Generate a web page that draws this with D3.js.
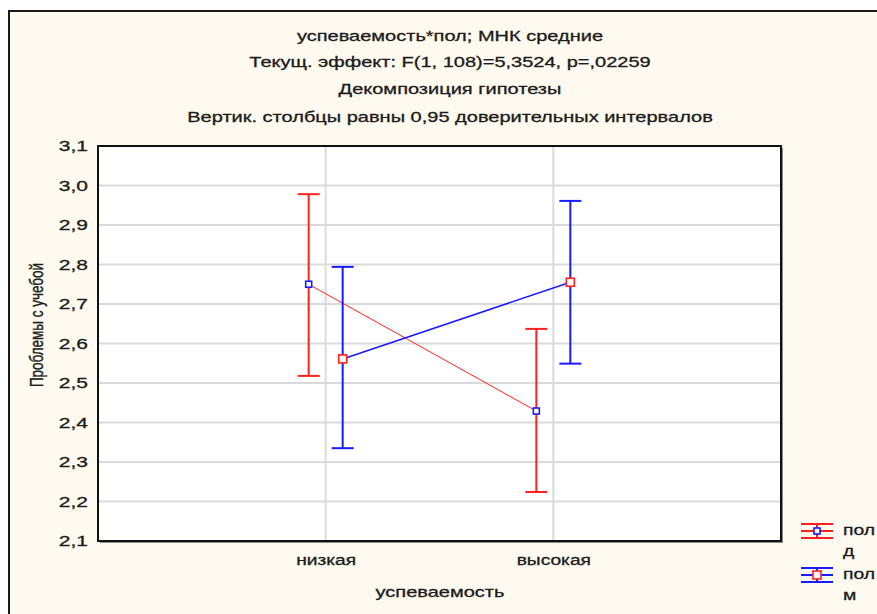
<!DOCTYPE html>
<html>
<head>
<meta charset="utf-8">
<script src="https://cdn.jsdelivr.net/npm/d3@7"></script>
<style>
  html, body { margin: 0; padding: 0; background: #ffffff; }
  svg { display: block; }
  text { font-family: "Liberation Sans", Arial, sans-serif; fill: #1c1c1c; stroke: #1c1c1c; stroke-width: 0.3; }
</style>
</head>
<body>
<svg id="chart" width="877" height="614"></svg>
<script>
// Levels of the factor on the x axis
const categories = ["низкая", "высокая"];
// Groups of the second factor (пол)
const groups = ["д", "м"];

// Least-squares means with 0.95 confidence limits, per group, per category
const meanD = [2.750, 2.429];
const lowD  = [2.518, 2.224];
const highD = [2.978, 2.637];

const meanM = [2.561, 2.755];
const lowM  = [2.335, 2.549];
const highM = [2.794, 2.961];

const yTicks = [2.1, 2.2, 2.3, 2.4, 2.5, 2.6, 2.7, 2.8, 2.9, 3.0, 3.1];

const titleLines = [
  "успеваемость*пол; МНК средние",
  "Текущ.  эффект: F(1, 108)=5,3524, p=,02259",
  "Декомпозиция гипотезы",
  "Вертик. столбцы равны 0,95 доверительных интервалов"
];
const yTitle = "Проблемы с учебой";
const xTitle = "успеваемость";
const legendLabel = "пол";

const series = [
  { key: groups[0], mean: meanD, low: lowD, high: highD, color: "#ff2020", marker: "#1a1aff", lineW: 1, markerSize: 6 },
  { key: groups[1], mean: meanM, low: lowM, high: highM, color: "#1a1aff", marker: "#ff2020", lineW: 1.6, markerSize: 8 }
];

const svg = d3.select("#chart");
const W = 877, H = 614;
const plot = { left: 98, top: 146, right: 781, bottom: 541 };
const sx = 1.38; // horizontal stretch of the lettering

// Page background and outer frame
svg.append("rect").attr("x", 8).attr("y", 10).attr("width", W).attr("height", H)
  .attr("fill", "#fffaf0");
svg.append("path").attr("d", `M9,${H} V11 H${W}`)
  .attr("fill", "none").attr("stroke", "#1a1a1a").attr("stroke-width", 2);

const x = d3.scalePoint().domain(categories).range([plot.left, plot.right]).padding(1);
const dodge = d3.scalePoint().domain(groups).range([-17, 17]);
const y = d3.scaleLinear().domain([2.1, 3.1]).range([plot.bottom, plot.top]);
const fmt = d3.formatLocale({ decimal: ",", thousands: " ", grouping: [3], currency: ["", ""] }).format(".1f");

// Plot area
svg.append("rect").attr("x", plot.left + 2).attr("y", plot.top + 2)
  .attr("width", plot.right - plot.left).attr("height", plot.bottom - plot.top)
  .attr("fill", "#8a8a8a");
svg.append("rect").attr("x", plot.left).attr("y", plot.top)
  .attr("width", plot.right - plot.left).attr("height", plot.bottom - plot.top)
  .attr("fill", "#ffffff");

// Grid
const grid = svg.append("g").attr("stroke", "#dadada").attr("stroke-width", 2);
grid.selectAll("line.h").data(yTicks.slice(1, -1)).join("line").attr("class", "h")
  .attr("x1", plot.left).attr("x2", plot.right)
  .attr("y1", d => y(d)).attr("y2", d => y(d));
grid.selectAll("line.v").data(categories).join("line").attr("class", "v")
  .attr("x1", d => x(d)).attr("x2", d => x(d))
  .attr("y1", plot.top).attr("y2", plot.bottom);

// Y axis labels
const yAxis = d3.axisLeft(y).tickValues(yTicks).tickFormat(fmt).tickSize(0).tickPadding(10);
const gy = svg.append("g").attr("transform", `translate(${plot.left},0)`).call(yAxis);
gy.select(".domain").remove();
gy.selectAll(".tick text")
  .attr("font-size", 14.5).attr("font-family", "Liberation Sans, Arial, sans-serif")
  .attr("fill", "#1c1c1c")
  .attr("transform", function () {
    const tx = +d3.select(this).attr("x");
    return `translate(${tx},0) scale(1.45,1) translate(${-tx},0)`;
  });

// X axis labels
const xAxis = d3.axisBottom(x).tickSize(0).tickPadding(14);
const gx = svg.append("g").attr("transform", `translate(0,${plot.bottom})`).call(xAxis);
gx.select(".domain").remove();
gx.selectAll(".tick text")
  .attr("font-size", 14).attr("font-family", "Liberation Sans, Arial, sans-serif")
  .attr("fill", "#1c1c1c")
  .attr("transform", "scale(1.37,1)");

// Stretched text helper: kx along the text, ky across it
function label(px, py, txt, size, anchor, rotate, kx, ky) {
  const a = kx === undefined ? sx : kx;
  const b = ky === undefined ? 1 : ky;
  const g = svg.append("g").attr("transform",
    `translate(${px},${py})` + (rotate ? ` rotate(${rotate})` : "") + ` scale(${a},${b})`);
  g.append("text").attr("text-anchor", anchor || "middle")
    .attr("dominant-baseline", "middle").attr("font-size", size).text(txt);
}

titleLines.forEach((t, i) => label(450, [37, 63, 90, 118][i], t, 14.5));
label(38, 325, yTitle, 13.5, "middle", -90, 1, 1.35);
label(440, 593, xTitle, 14.5);

// Frame of the plot area
svg.append("rect").attr("x", plot.left).attr("y", plot.top)
  .attr("width", plot.right - plot.left).attr("height", plot.bottom - plot.top)
  .attr("fill", "none").attr("stroke", "#111").attr("stroke-width", 2);

// Series: connecting lines, error bars, markers
series.forEach(s => {
  const px = i => x(categories[i]) + dodge(s.key);
  const line = d3.line().x((d, i) => px(i)).y(d => y(d));
  svg.append("path").datum(s.mean).attr("d", line)
    .attr("fill", "none").attr("stroke", s.color).attr("stroke-width", s.lineW);

  const g = svg.append("g").attr("stroke", s.color).attr("stroke-width", 2);
  categories.forEach((c, i) => {
    const cx = px(i);
    g.append("line").attr("x1", cx).attr("x2", cx).attr("y1", y(s.low[i])).attr("y2", y(s.high[i]));
    [s.low[i], s.high[i]].forEach(v => {
      g.append("line").attr("x1", cx - 11).attr("x2", cx + 11).attr("y1", y(v)).attr("y2", y(v));
    });
  });
  svg.selectAll(null).data(s.mean).join("rect")
    .attr("x", (d, i) => px(i) - s.markerSize / 2)
    .attr("y", d => y(d) - s.markerSize / 2)
    .attr("width", s.markerSize).attr("height", s.markerSize)
    .attr("fill", "#ffffff").attr("stroke", s.marker).attr("stroke-width", 1.6);
});

// Legend
series.forEach((s, i) => {
  const ly = 531 + i * 44;
  const cx = 817;
  const g = svg.append("g").attr("stroke", s.color).attr("stroke-width", 2);
  [-7, 0, 7].forEach(dy => g.append("line").attr("x1", cx - 16).attr("x2", cx + 16)
    .attr("y1", ly + dy).attr("y2", ly + dy));
  g.append("line").attr("x1", cx).attr("x2", cx).attr("y1", ly - 7).attr("y2", ly + 7);
  svg.append("rect").attr("x", cx - s.markerSize / 2).attr("y", ly - s.markerSize / 2)
    .attr("width", s.markerSize).attr("height", s.markerSize)
    .attr("fill", "#ffffff").attr("stroke", s.marker).attr("stroke-width", 1.6);
  label(843, ly, legendLabel, 14, "start");
  label(843, ly + 21, s.key, 14, "start");
});
</script>
</body>
</html>
